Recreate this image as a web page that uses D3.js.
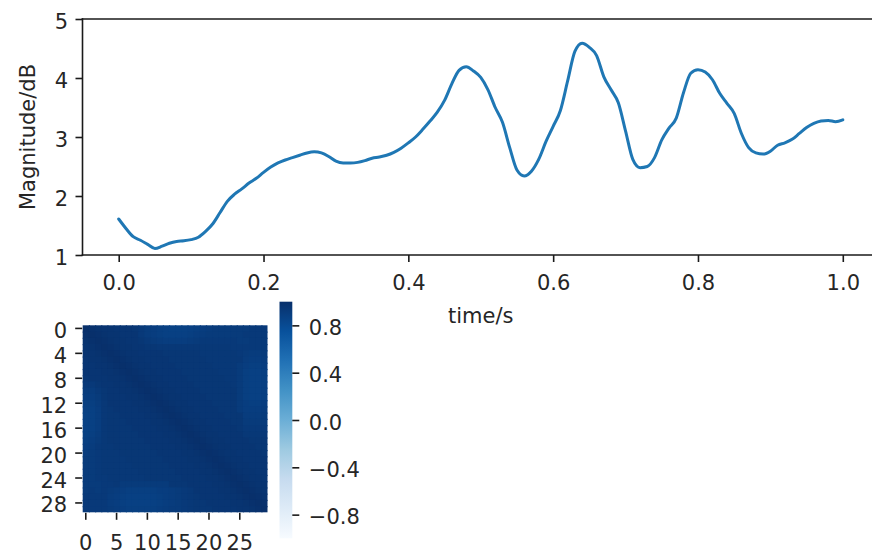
<!DOCTYPE html>
<html>
<head>
<meta charset="utf-8">
<script src="https://cdn.jsdelivr.net/npm/d3@7"></script>
<style>
  body { margin: 0; background: #fff; }
  svg text { font-family: "DejaVu Sans", sans-serif; fill: #262626; }
</style>
</head>
<body>
<svg id="chart" width="872" height="554"></svg>
<script>
// ---- magnitude envelope over time ----
const times = [
  0.00,0.01,0.02,0.03,0.04,0.05,0.06,0.07,0.08,0.09,
  0.10,0.11,0.12,0.13,0.14,0.15,0.16,0.17,0.18,0.19,
  0.20,0.21,0.22,0.23,0.24,0.25,0.26,0.27,0.28,0.29,
  0.30,0.31,0.32,0.33,0.34,0.35,0.36,0.37,0.38,0.39,
  0.40,0.41,0.42,0.43,0.44,0.45,0.46,0.47,0.48,0.49,
  0.50,0.51,0.52,0.53,0.54,0.55,0.56,0.57,0.58,0.59,
  0.60,0.61,0.62,0.63,0.64,0.65,0.66,0.67,0.68,0.69,
  0.70,0.71,0.72,0.73,0.74,0.75,0.76,0.77,0.78,0.79,
  0.80,0.81,0.82,0.83,0.84,0.85,0.86,0.87,0.88,0.89,
  0.90,0.91,0.92,0.93,0.94,0.95,0.96,0.97,0.98,0.99,
  1.00
];
const magnitude = [
  1.61,1.45,1.31,1.25,1.18,1.11,1.15,1.20,1.23,1.24,
  1.26,1.30,1.40,1.53,1.72,1.91,2.03,2.12,2.22,2.30,
  2.40,2.49,2.56,2.61,2.65,2.69,2.73,2.75,2.73,2.67,
  2.59,2.56,2.56,2.57,2.60,2.64,2.66,2.69,2.74,2.81,
  2.90,3.00,3.13,3.27,3.42,3.62,3.90,4.13,4.19,4.12,
  4.01,3.80,3.50,3.25,2.82,2.44,2.34,2.42,2.62,2.92,
  3.18,3.45,3.95,4.45,4.59,4.52,4.38,4.02,3.80,3.58,
  3.10,2.62,2.48,2.50,2.65,2.95,3.15,3.32,3.75,4.08,
  4.14,4.10,3.97,3.74,3.57,3.40,3.06,2.82,2.73,2.71,
  2.76,2.86,2.90,2.96,3.06,3.16,3.23,3.27,3.28,3.26,
  3.29
];
const timeTicks = [0.0, 0.2, 0.4, 0.6, 0.8, 1.0];
const magnitudeTicks = [1, 2, 3, 4, 5];

// ---- frame-to-frame correlation matrix ----
const frameIndex = [0,1,2,3,4,5,6,7,8,9,10,11,12,13,14,15,16,17,18,19,20,21,22,23,24,25,26,27,28,29];
const correlation = [
  [1.00,0.99,0.98,0.97,0.97,0.96,0.96,0.96,0.95,0.93,0.91,0.90,0.89,0.88,0.87,0.87,0.87,0.88,0.89,0.90,0.91,0.92,0.92,0.92,0.92,0.92,0.92,0.93,0.93,0.93],
  [0.99,1.00,0.99,0.98,0.97,0.97,0.96,0.96,0.96,0.93,0.91,0.90,0.89,0.88,0.88,0.88,0.88,0.89,0.90,0.91,0.92,0.92,0.92,0.92,0.92,0.92,0.93,0.93,0.93,0.93],
  [0.98,0.99,1.00,0.99,0.98,0.97,0.97,0.96,0.96,0.95,0.93,0.92,0.91,0.90,0.90,0.90,0.90,0.91,0.92,0.93,0.93,0.93,0.93,0.93,0.93,0.92,0.92,0.93,0.93,0.93],
  [0.97,0.98,0.99,1.00,0.99,0.98,0.97,0.97,0.96,0.96,0.95,0.95,0.94,0.94,0.94,0.94,0.94,0.94,0.94,0.94,0.94,0.94,0.94,0.94,0.93,0.93,0.93,0.93,0.93,0.93],
  [0.97,0.97,0.98,0.99,1.00,0.99,0.98,0.97,0.97,0.96,0.96,0.96,0.96,0.95,0.95,0.95,0.95,0.95,0.95,0.94,0.94,0.94,0.94,0.94,0.94,0.93,0.92,0.91,0.91,0.92],
  [0.96,0.97,0.97,0.98,0.99,1.00,0.99,0.98,0.97,0.97,0.96,0.96,0.96,0.96,0.95,0.95,0.95,0.95,0.95,0.95,0.94,0.94,0.94,0.94,0.94,0.94,0.91,0.90,0.90,0.91],
  [0.96,0.96,0.97,0.97,0.98,0.99,1.00,0.99,0.98,0.97,0.97,0.96,0.96,0.96,0.96,0.95,0.95,0.95,0.95,0.95,0.95,0.94,0.94,0.94,0.94,0.92,0.90,0.89,0.89,0.90],
  [0.96,0.96,0.96,0.97,0.97,0.98,0.99,1.00,0.99,0.98,0.97,0.97,0.96,0.96,0.96,0.96,0.95,0.95,0.95,0.95,0.95,0.95,0.94,0.94,0.94,0.92,0.89,0.88,0.88,0.89],
  [0.95,0.96,0.96,0.96,0.97,0.97,0.98,0.99,1.00,0.99,0.98,0.97,0.97,0.96,0.96,0.96,0.96,0.95,0.95,0.95,0.95,0.95,0.95,0.94,0.94,0.92,0.89,0.88,0.88,0.89],
  [0.93,0.93,0.95,0.96,0.96,0.97,0.97,0.98,0.99,1.00,0.99,0.98,0.97,0.97,0.96,0.96,0.96,0.96,0.95,0.95,0.95,0.95,0.95,0.95,0.94,0.92,0.89,0.88,0.88,0.89],
  [0.91,0.91,0.93,0.95,0.96,0.96,0.97,0.97,0.98,0.99,1.00,0.99,0.98,0.97,0.97,0.96,0.96,0.96,0.96,0.95,0.95,0.95,0.95,0.95,0.95,0.92,0.89,0.88,0.88,0.89],
  [0.90,0.90,0.92,0.95,0.96,0.96,0.96,0.97,0.97,0.98,0.99,1.00,0.99,0.98,0.97,0.97,0.96,0.96,0.96,0.96,0.95,0.95,0.95,0.95,0.95,0.92,0.89,0.88,0.88,0.89],
  [0.89,0.89,0.91,0.94,0.96,0.96,0.96,0.96,0.97,0.97,0.98,0.99,1.00,0.99,0.98,0.97,0.97,0.96,0.96,0.96,0.96,0.95,0.95,0.95,0.95,0.92,0.90,0.89,0.89,0.90],
  [0.88,0.88,0.90,0.94,0.95,0.96,0.96,0.96,0.96,0.97,0.97,0.98,0.99,1.00,0.99,0.98,0.97,0.97,0.96,0.96,0.96,0.96,0.95,0.95,0.95,0.92,0.90,0.90,0.90,0.91],
  [0.87,0.88,0.90,0.94,0.95,0.95,0.96,0.96,0.96,0.96,0.97,0.97,0.98,0.99,1.00,0.99,0.98,0.97,0.97,0.96,0.96,0.96,0.96,0.95,0.95,0.95,0.91,0.91,0.91,0.92],
  [0.87,0.88,0.90,0.94,0.95,0.95,0.95,0.96,0.96,0.96,0.96,0.97,0.97,0.98,0.99,1.00,0.99,0.98,0.97,0.97,0.96,0.96,0.96,0.96,0.95,0.95,0.92,0.92,0.92,0.92],
  [0.87,0.88,0.90,0.94,0.95,0.95,0.95,0.95,0.96,0.96,0.96,0.96,0.97,0.97,0.98,0.99,1.00,0.99,0.98,0.97,0.97,0.96,0.96,0.96,0.96,0.95,0.93,0.93,0.93,0.93],
  [0.88,0.89,0.91,0.94,0.95,0.95,0.95,0.95,0.95,0.96,0.96,0.96,0.96,0.97,0.97,0.98,0.99,1.00,0.99,0.98,0.97,0.97,0.96,0.96,0.96,0.96,0.94,0.94,0.94,0.94],
  [0.89,0.90,0.92,0.94,0.95,0.95,0.95,0.95,0.95,0.95,0.96,0.96,0.96,0.96,0.97,0.97,0.98,0.99,1.00,0.99,0.98,0.97,0.97,0.96,0.96,0.96,0.96,0.95,0.95,0.95],
  [0.90,0.91,0.93,0.94,0.94,0.95,0.95,0.95,0.95,0.95,0.95,0.96,0.96,0.96,0.96,0.97,0.97,0.98,0.99,1.00,0.99,0.98,0.97,0.97,0.96,0.96,0.96,0.96,0.95,0.95],
  [0.91,0.92,0.93,0.94,0.94,0.94,0.95,0.95,0.95,0.95,0.95,0.95,0.96,0.96,0.96,0.96,0.97,0.97,0.98,0.99,1.00,0.99,0.98,0.97,0.97,0.96,0.96,0.96,0.96,0.95],
  [0.92,0.92,0.93,0.94,0.94,0.94,0.94,0.95,0.95,0.95,0.95,0.95,0.95,0.96,0.96,0.96,0.96,0.97,0.97,0.98,0.99,1.00,0.99,0.98,0.97,0.97,0.96,0.96,0.96,0.96],
  [0.92,0.92,0.93,0.94,0.94,0.94,0.94,0.94,0.95,0.95,0.95,0.95,0.95,0.95,0.96,0.96,0.96,0.96,0.97,0.97,0.98,0.99,1.00,0.99,0.98,0.97,0.97,0.96,0.96,0.96],
  [0.92,0.92,0.93,0.94,0.94,0.94,0.94,0.94,0.94,0.95,0.95,0.95,0.95,0.95,0.95,0.96,0.96,0.96,0.96,0.97,0.97,0.98,0.99,1.00,0.99,0.98,0.97,0.97,0.96,0.96],
  [0.92,0.92,0.93,0.93,0.94,0.94,0.94,0.94,0.94,0.94,0.95,0.95,0.95,0.95,0.95,0.95,0.96,0.96,0.96,0.96,0.97,0.97,0.98,0.99,1.00,0.99,0.98,0.97,0.97,0.96],
  [0.92,0.92,0.92,0.93,0.93,0.94,0.92,0.92,0.92,0.92,0.92,0.92,0.92,0.92,0.95,0.95,0.95,0.96,0.96,0.96,0.96,0.97,0.97,0.98,0.99,1.00,0.99,0.98,0.97,0.97],
  [0.92,0.93,0.92,0.93,0.92,0.91,0.90,0.89,0.89,0.89,0.89,0.89,0.90,0.90,0.91,0.92,0.93,0.94,0.96,0.96,0.96,0.96,0.97,0.97,0.98,0.99,1.00,0.99,0.98,0.97],
  [0.93,0.93,0.93,0.93,0.91,0.90,0.89,0.88,0.88,0.88,0.88,0.88,0.89,0.90,0.91,0.92,0.93,0.94,0.95,0.96,0.96,0.96,0.96,0.97,0.97,0.98,0.99,1.00,0.99,0.98],
  [0.93,0.93,0.93,0.93,0.91,0.90,0.89,0.88,0.88,0.88,0.88,0.88,0.89,0.90,0.91,0.92,0.93,0.94,0.95,0.95,0.96,0.96,0.96,0.96,0.97,0.97,0.98,0.99,1.00,0.99],
  [0.93,0.93,0.93,0.93,0.92,0.91,0.90,0.89,0.89,0.89,0.89,0.89,0.90,0.91,0.92,0.92,0.93,0.94,0.95,0.95,0.95,0.96,0.96,0.96,0.96,0.97,0.97,0.98,0.99,1.00]
];
const rowTicks = [0, 4, 8, 12, 16, 20, 24, 28];
const colTicks = [0, 5, 10, 15, 20, 25];
const colorbarTicks = [-0.8, -0.4, 0.0, 0.4, 0.8];
const colorRange = [-1, 1];
// "Blues" ramp (ColorBrewer 9-class), interpolated linearly
const bluesRamp = ["#f7fbff","#deebf7","#c6dbef","#9ecae1","#6baed6","#4292c6","#2171b5","#08519c","#08306b"];

const svg = d3.select("#chart");
svg.append("rect").attr("width", 872).attr("height", 554).attr("fill", "#fff");

const FS = 21;          // label font size
const TICK = 7;         // tick length
const STROKE = 1.6;     // spine / tick width
const INK = "#1a1a1a";

// ================= line chart =================
const line = { left: 82.5, right: 879, top: 19, bottom: 255 };
const x = d3.scaleLinear().domain([-0.05, 1.05]).range([line.left, line.right]);
const y = d3.scaleLinear().domain([1, 5]).range([line.bottom, line.top]);

const gLine = svg.append("g");

// the magnitude curve
gLine.append("path")
  .datum(times.map((t, i) => [t, magnitude[i]]))
  .attr("fill", "none")
  .attr("stroke", "#1f77b4")
  .attr("stroke-width", 3)
  .attr("stroke-linejoin", "round")
  .attr("stroke-linecap", "round")
  .attr("d", d3.line().x(d => x(d[0])).y(d => y(d[1])).curve(d3.curveMonotoneX));

// spines
const spines = [
  [line.left, line.top, line.left, line.bottom],
  [line.left, line.bottom, line.right, line.bottom],
  [line.left, line.top, line.right, line.top],
  [line.right, line.top, line.right, line.bottom]
];
gLine.selectAll("line.spine").data(spines).join("line")
  .attr("class", "spine")
  .attr("x1", d => d[0]).attr("y1", d => d[1])
  .attr("x2", d => d[2]).attr("y2", d => d[3])
  .attr("stroke", INK).attr("stroke-width", STROKE).attr("stroke-linecap", "square");

// x axis
const xAxis = gLine.append("g")
  .attr("transform", `translate(0,${line.bottom})`)
  .call(d3.axisBottom(x).tickValues(timeTicks).tickFormat(d3.format(".1f"))
    .tickSize(TICK).tickSizeOuter(0).tickPadding(0));
xAxis.select(".domain").remove();
xAxis.selectAll(".tick line").attr("stroke", INK).attr("stroke-width", STROKE);
xAxis.selectAll(".tick text")
  .attr("y", 35).attr("dy", null)
  .style("font-size", FS + "px");

// y axis
const yAxis = gLine.append("g")
  .attr("transform", `translate(${line.left},0)`)
  .call(d3.axisLeft(y).tickValues(magnitudeTicks).tickFormat(d3.format("d"))
    .tickSize(TICK).tickSizeOuter(0).tickPadding(0));
yAxis.select(".domain").remove();
yAxis.selectAll(".tick line").attr("stroke", INK).attr("stroke-width", STROKE);
yAxis.selectAll(".tick text")
  .attr("x", -14.5).attr("dy", null).attr("y", 9.5)
  .style("font-size", FS + "px");

// axis titles
gLine.append("text")
  .attr("x", (x(0) + x(1)) / 2).attr("y", 323)
  .attr("text-anchor", "middle")
  .style("font-size", FS + "px")
  .text("time/s");
gLine.append("text")
  .attr("transform", `translate(34.5,${(line.top + line.bottom) / 2}) rotate(-90)`)
  .attr("text-anchor", "middle")
  .style("font-size", FS + "px")
  .text("Magnitude/dB");

// ================= correlation heatmap =================
const heat = { left: 82.7, right: 267.5, top: 325.3, bottom: 512.3 };
const hx = d3.scaleBand().domain(frameIndex).range([heat.left, heat.right]);
const hy = d3.scaleBand().domain(frameIndex).range([heat.top, heat.bottom]);
const color = d3.scaleLinear()
  .domain(bluesRamp.map((_, i) => colorRange[0] + (colorRange[1] - colorRange[0]) * i / (bluesRamp.length - 1)))
  .range(bluesRamp)
  .clamp(true);

const gHeat = svg.append("g");
const cells = [];
correlation.forEach((row, r) => row.forEach((v, c) => cells.push({ r, c, v })));
// cells overlap their right/lower neighbours so no background shows between them
gHeat.selectAll("rect.cell").data(cells).join("rect")
  .attr("class", "cell")
  .attr("x", d => hx(d.c))
  .attr("y", d => hy(d.r))
  .attr("width", d => hx.bandwidth() + (d.c < frameIndex.length - 1 ? 1.2 : 0))
  .attr("height", d => hy.bandwidth() + (d.r < frameIndex.length - 1 ? 1.2 : 0))
  .attr("fill", d => color(d.v));

// heatmap axes (ticks only, no spines)
const hxAxis = gHeat.append("g")
  .attr("transform", `translate(0,${heat.bottom + 0.5})`)
  .call(d3.axisBottom(hx).tickValues(colTicks).tickSize(TICK).tickSizeOuter(0).tickPadding(0));
hxAxis.select(".domain").remove();
hxAxis.selectAll(".tick line").attr("stroke", INK).attr("stroke-width", STROKE);
hxAxis.selectAll(".tick text")
  .attr("y", 37).attr("dy", null)
  .style("font-size", FS + "px");

const hyAxis = gHeat.append("g")
  .attr("transform", `translate(${heat.left - 0.5},0)`)
  .call(d3.axisLeft(hy).tickValues(rowTicks).tickSize(TICK).tickSizeOuter(0).tickPadding(0));
hyAxis.select(".domain").remove();
hyAxis.selectAll(".tick line").attr("stroke", INK).attr("stroke-width", STROKE);
hyAxis.selectAll(".tick text")
  .attr("x", -15).attr("dy", null).attr("y", 9.5)
  .style("font-size", FS + "px");

// ================= colorbar =================
const cb = { left: 279.5, right: 292.3, top: 301.7, bottom: 538.3 };
const cy = d3.scaleLinear().domain(colorRange).range([cb.bottom, cb.top]);

const grad = svg.append("defs").append("linearGradient")
  .attr("id", "cbGrad")
  .attr("x1", 0).attr("y1", 1).attr("x2", 0).attr("y2", 0);
grad.selectAll("stop").data(color.domain()).join("stop")
  .attr("offset", d => (d - colorRange[0]) / (colorRange[1] - colorRange[0]))
  .attr("stop-color", d => color(d));

const gCb = svg.append("g");
gCb.append("rect")
  .attr("x", cb.left).attr("y", cy(colorRange[1]))
  .attr("width", cb.right - cb.left)
  .attr("height", cy(colorRange[0]) - cy(colorRange[1]))
  .attr("fill", "url(#cbGrad)");

const cbAxis = gCb.append("g")
  .attr("transform", `translate(${cb.right},0)`)
  .call(d3.axisRight(cy).tickValues(colorbarTicks).tickFormat(d3.format(".1f"))
    .tickSize(TICK).tickSizeOuter(0).tickPadding(0));
cbAxis.select(".domain").remove();
cbAxis.selectAll(".tick line").attr("stroke", INK).attr("stroke-width", STROKE);
cbAxis.selectAll(".tick text")
  .attr("x", 16.5).attr("dy", null).attr("y", 9)
  .style("font-size", FS + "px");
</script>
</body>
</html>
